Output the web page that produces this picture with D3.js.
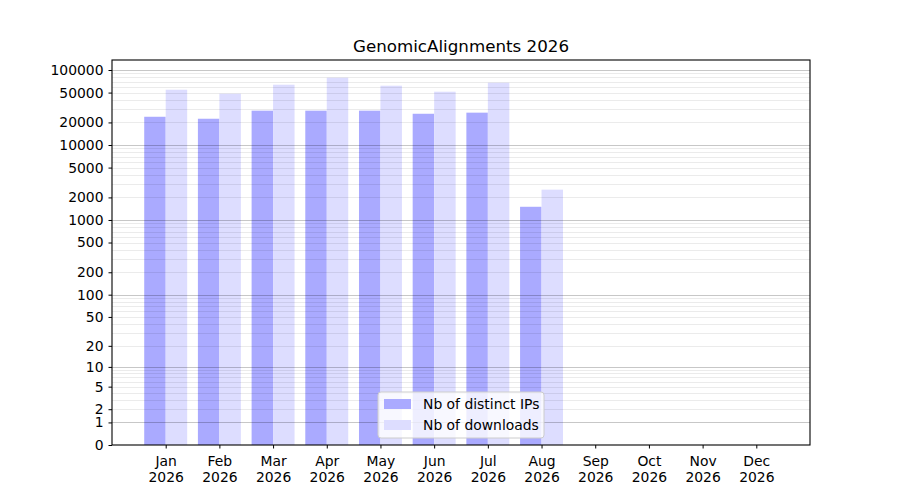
<!DOCTYPE html>
<html>
<head>
<meta charset="utf-8">
<style>
    body { margin: 0; background: white; }
    svg { font-family: 'DejaVu Sans', sans-serif; }
</style>
</head>
<body>
<svg width="900" height="500"></svg>
<script src="https://d3js.org/d3.v7.min.js"></script>
<script>
    // data
    let months = ["Jan", "Feb", "Mar", "Apr", "May", "Jun", "Jul", "Aug", "Sep", "Oct", "Nov", "Dec"];
    let year = "2026";
    let distinctIPs = [23800, 22400, 28700, 28700, 28700, 26100, 27000, 1500];
    let downloads = [54600, 48300, 63700, 78900, 61800, 51400, 67700, 2540];
    let yTicks = [0, 1, 2, 5, 10, 20, 50, 100, 200, 500, 1000, 2000, 5000, 10000, 20000, 50000, 100000];
    let seriesNames = ["Nb of distinct IPs", "Nb of downloads"];
    let seriesColors = ["#aaaaff", "#ddddff"];
    let yMax = 136000;

    let margin = {top: 60, right: 90, bottom: 55, left: 112};
    let width = 900, height = 500;

    let svg = d3.select("svg");

    let x = d3.scaleLinear()
        .domain([-1, months.length])
        .range([margin.left, width - margin.right]);

    let y = d3.scaleSymlog()
        .constant(1)
        .domain([0, yMax])
        .range([height - margin.bottom, margin.top]);

    let step = x(1) - x(0);
    let barW = step * 0.4;

    // bars
    let bars = svg.append("g");
    bars.selectAll(".ip")
        .data(distinctIPs)
        .join("rect")
        .attr("class", "ip")
        .attr("x", (d, i) => x(i) - barW)
        .attr("width", barW)
        .attr("y", d => y(d))
        .attr("height", d => y(0) - y(d))
        .attr("fill", seriesColors[0]);

    bars.selectAll(".dl")
        .data(downloads)
        .join("rect")
        .attr("class", "dl")
        .attr("x", (d, i) => x(i))
        .attr("width", barW)
        .attr("y", d => y(d))
        .attr("height", d => y(0) - y(d))
        .attr("fill", seriesColors[1]);

    // grid: minor lines at k*10^n, major at decades
    let minor = [];
    let major = [1];
    for (let n = 0; n <= 5; n++) {
        for (let k = 2; k <= 9; k++) {
            let v = k * Math.pow(10, n);
            if (v < yMax) minor.push(v);
        }
        if (n > 0) major.push(Math.pow(10, n));
    }

    let grid = svg.append("g");
    grid.selectAll(".minor")
        .data(minor)
        .join("line")
        .attr("x1", margin.left)
        .attr("x2", width - margin.right)
        .attr("y1", d => Math.round(y(d)) + 0.5)
        .attr("y2", d => Math.round(y(d)) + 0.5)
        .attr("stroke", "black")
        .attr("stroke-opacity", 0.08);

    grid.selectAll(".major")
        .data(major)
        .join("line")
        .attr("x1", margin.left)
        .attr("x2", width - margin.right)
        .attr("y1", d => Math.round(y(d)) + 0.5)
        .attr("y2", d => Math.round(y(d)) + 0.5)
        .attr("stroke", "black")
        .attr("stroke-opacity", 0.22);

    // axes
    let yAxis = d3.axisLeft(y)
        .tickValues(yTicks)
        .tickFormat(d3.format("d"))
        .tickSize(3.5)
        .tickPadding(5);

    svg.append("g")
        .attr("transform", `translate(${margin.left},0)`)
        .call(yAxis)
        .call(g => g.select(".domain").remove())
        .call(g => g.selectAll("text").attr("font-size", "13.9px").attr("fill", "black").attr("font-family", "DejaVu Sans"));

    let xAxis = d3.axisBottom(x)
        .tickValues(d3.range(months.length))
        .tickFormat("")
        .tickSize(3.5);

    let xg = svg.append("g")
        .attr("transform", `translate(0,${height - margin.bottom})`)
        .call(xAxis)
        .call(g => g.select(".domain").remove());

    xg.selectAll(".tick")
        .append("text")
        .attr("text-anchor", "middle")
        .attr("fill", "black")
        .attr("font-size", "13.9px")
        .attr("font-family", "DejaVu Sans")
        .each(function (d) {
            let t = d3.select(this);
            t.append("tspan").attr("x", 0).attr("y", 21).text(months[d]);
            t.append("tspan").attr("x", 0).attr("y", 37).text(year);
        });

    // frame
    svg.append("rect")
        .attr("x", margin.left)
        .attr("y", margin.top)
        .attr("width", width - margin.right - margin.left)
        .attr("height", height - margin.bottom - margin.top)
        .attr("fill", "none")
        .attr("stroke", "black")
        .attr("stroke-width", 1.1);

    // title
    svg.append("text")
        .attr("x", (margin.left + width - margin.right) / 2)
        .attr("y", 52)
        .attr("text-anchor", "middle")
        .attr("font-size", "16.7px")
        .text("GenomicAlignments " + year);

    // legend
    let legend = svg.append("g").attr("transform", "translate(378,392)");
    legend.append("rect")
        .attr("width", 166)
        .attr("height", 46)
        .attr("rx", 3)
        .attr("fill", "white")
        .attr("fill-opacity", 0.8)
        .attr("stroke", "#cccccc")
        .attr("stroke-width", 1);

    let items = legend.selectAll(".item")
        .data(seriesNames)
        .join("g")
        .attr("transform", (d, i) => `translate(0,${7 + i * 21})`);

    items.append("rect")
        .attr("x", 6)
        .attr("width", 27)
        .attr("height", 10)
        .attr("fill", (d, i) => seriesColors[i]);

    items.append("text")
        .attr("x", 45)
        .attr("y", 10)
        .attr("font-size", "13.9px")
        .text(d => d);
</script>
</body>
</html>
